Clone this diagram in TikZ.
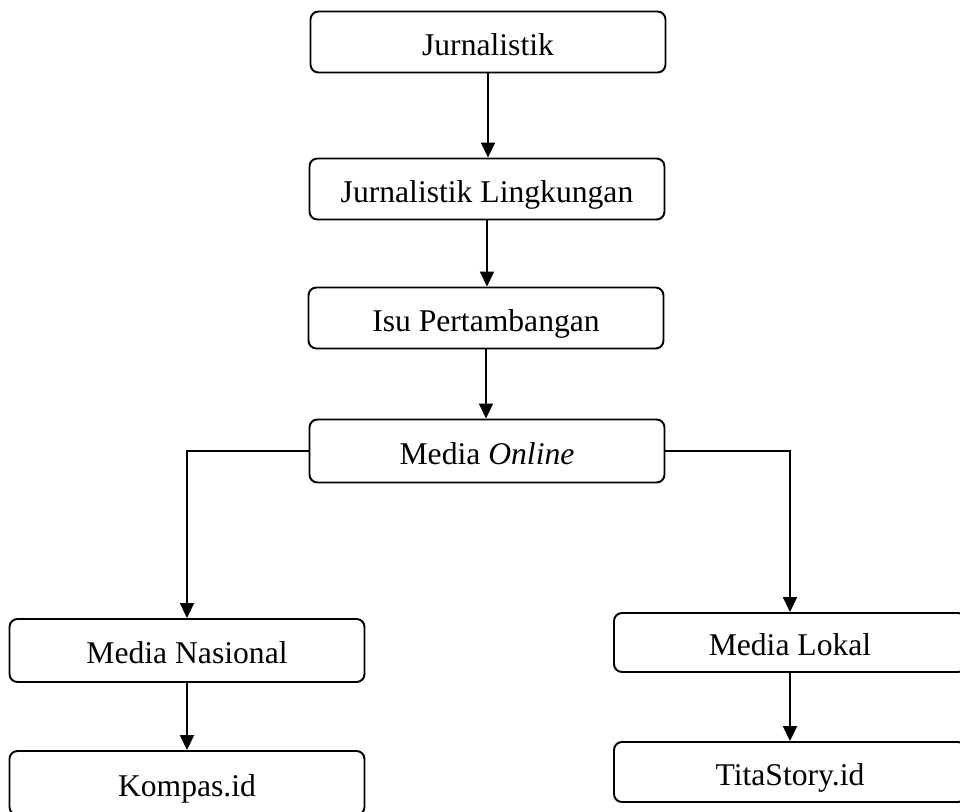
\documentclass[tikz,border=0pt]{standalone}
\usepackage{fontspec}
\setmainfont{Liberation Serif}
\usepackage{tikz}
\usetikzlibrary{arrows.meta,positioning,calc}

\begin{document}
\begin{tikzpicture}[-{Triangle[length=0.3cm,width=0.28cm]},line width=1.1pt,
 font=\fontsize{18}{21.6}\selectfont,
 box/.style={draw, rounded corners=1.6mm, minimum width=7.1cm, minimum height=1.22cm, inner sep=0pt, text height=0.6cm, text depth=0.08cm}]
\path[use as bounding box, clip] (0,0) rectangle (19.2,-16.22);
\node[box] (j1) at (9.76, -0.84) {Jurnalistik};
\node[box] (j2) at (9.74, -3.78) {Jurnalistik Lingkungan};
\node[box] (j3) at (9.72, -6.36) {Isu Pertambangan};
\node[box, minimum height=1.26cm] (m1) at (9.74, -9.02) {Media \textit{Online}};
\node[box, minimum height=1.26cm] (mn) at (3.74, -13.01) {Media Nasional};
\node[box, minimum height=1.28cm] (k1) at (3.74, -15.66) {Kompas.id};
\node[box, minimum width=7.04cm, minimum height=1.18cm] (ml) at (15.8, -12.85) {Media Lokal};
\node[box, minimum width=7.04cm, minimum height=1.2cm] (t1) at (15.8, -15.44) {TitaStory.id};
\path (j1) edge (j1 |- j2.north);
\path (j2) edge (j2 |- j3.north);
\path (j3) edge (j3 |- m1.north);
% cabang kiri dan kanan
\draw (m1.west) -| (mn.north);
\draw (m1.east) -| (ml.north);
\path (mn) edge (k1);
\path (ml) edge (t1);
\end{tikzpicture}
\end{document}
